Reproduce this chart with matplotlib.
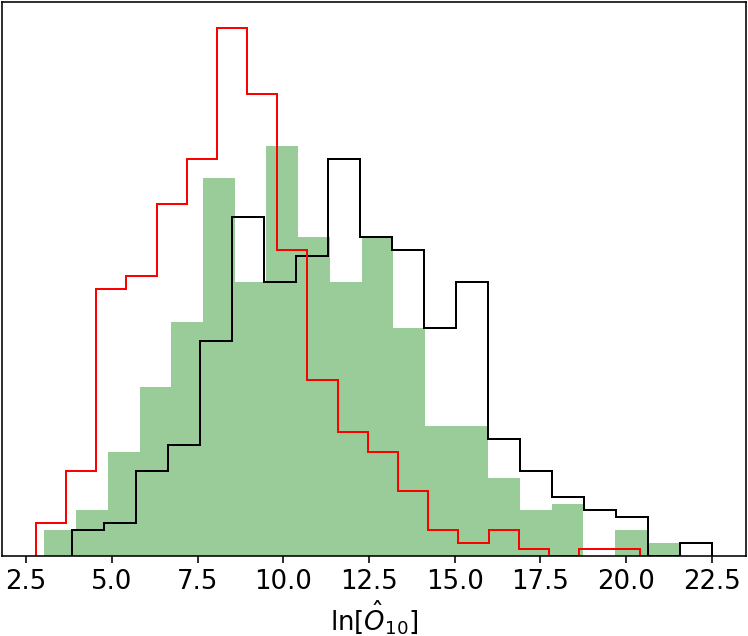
import numpy as np
import matplotlib
matplotlib.use("Agg")
import matplotlib.pyplot as plt

# bin ranges and counts (20 bins each)
green_range = (3.03, 21.53)
green_counts = [4, 7, 16, 26, 36, 58, 42, 63, 49, 42, 49, 35, 20, 20, 12, 7, 8, 0, 4, 2]

black_range = (3.83, 22.50)
black_counts = [4, 5, 13, 17, 33, 52, 42, 46, 61, 49, 47, 35, 42, 18, 13, 9, 7, 6, 0, 2]

red_range = (2.78, 20.39)
red_counts = [5, 13, 41, 43, 54, 61, 81, 71, 47, 27, 19, 16, 10, 4, 2, 4, 1, 0, 1, 1]

xlabel = r'$\ln[\hat{O}_{10}]$'

fig = plt.figure(figsize=(748 / 144, 636 / 144), dpi=144)
ax = fig.add_axes([2 / 748, 1 - 556 / 636, 743.7 / 748, 554 / 636])

g_edges = np.linspace(*green_range, len(green_counts) + 1)
b_edges = np.linspace(*black_range, len(black_counts) + 1)
r_edges = np.linspace(*red_range, len(red_counts) + 1)

ax.hist(g_edges[:-1], bins=g_edges, weights=green_counts, color='g', alpha=0.4)
ax.hist(b_edges[:-1], bins=b_edges, weights=black_counts, histtype='step', color='k', lw=1.0)
ax.hist(r_edges[:-1], bins=r_edges, weights=red_counts, histtype='step', color='r', lw=1.0)

ax.set_yticks([])
ax.set_xticks(np.arange(2.5, 23, 2.5))
ax.tick_params(labelsize=13, pad=3)
ax.set_xlabel(xlabel, fontsize=13, labelpad=2)

fig.savefig('out.png', dpi=144)
